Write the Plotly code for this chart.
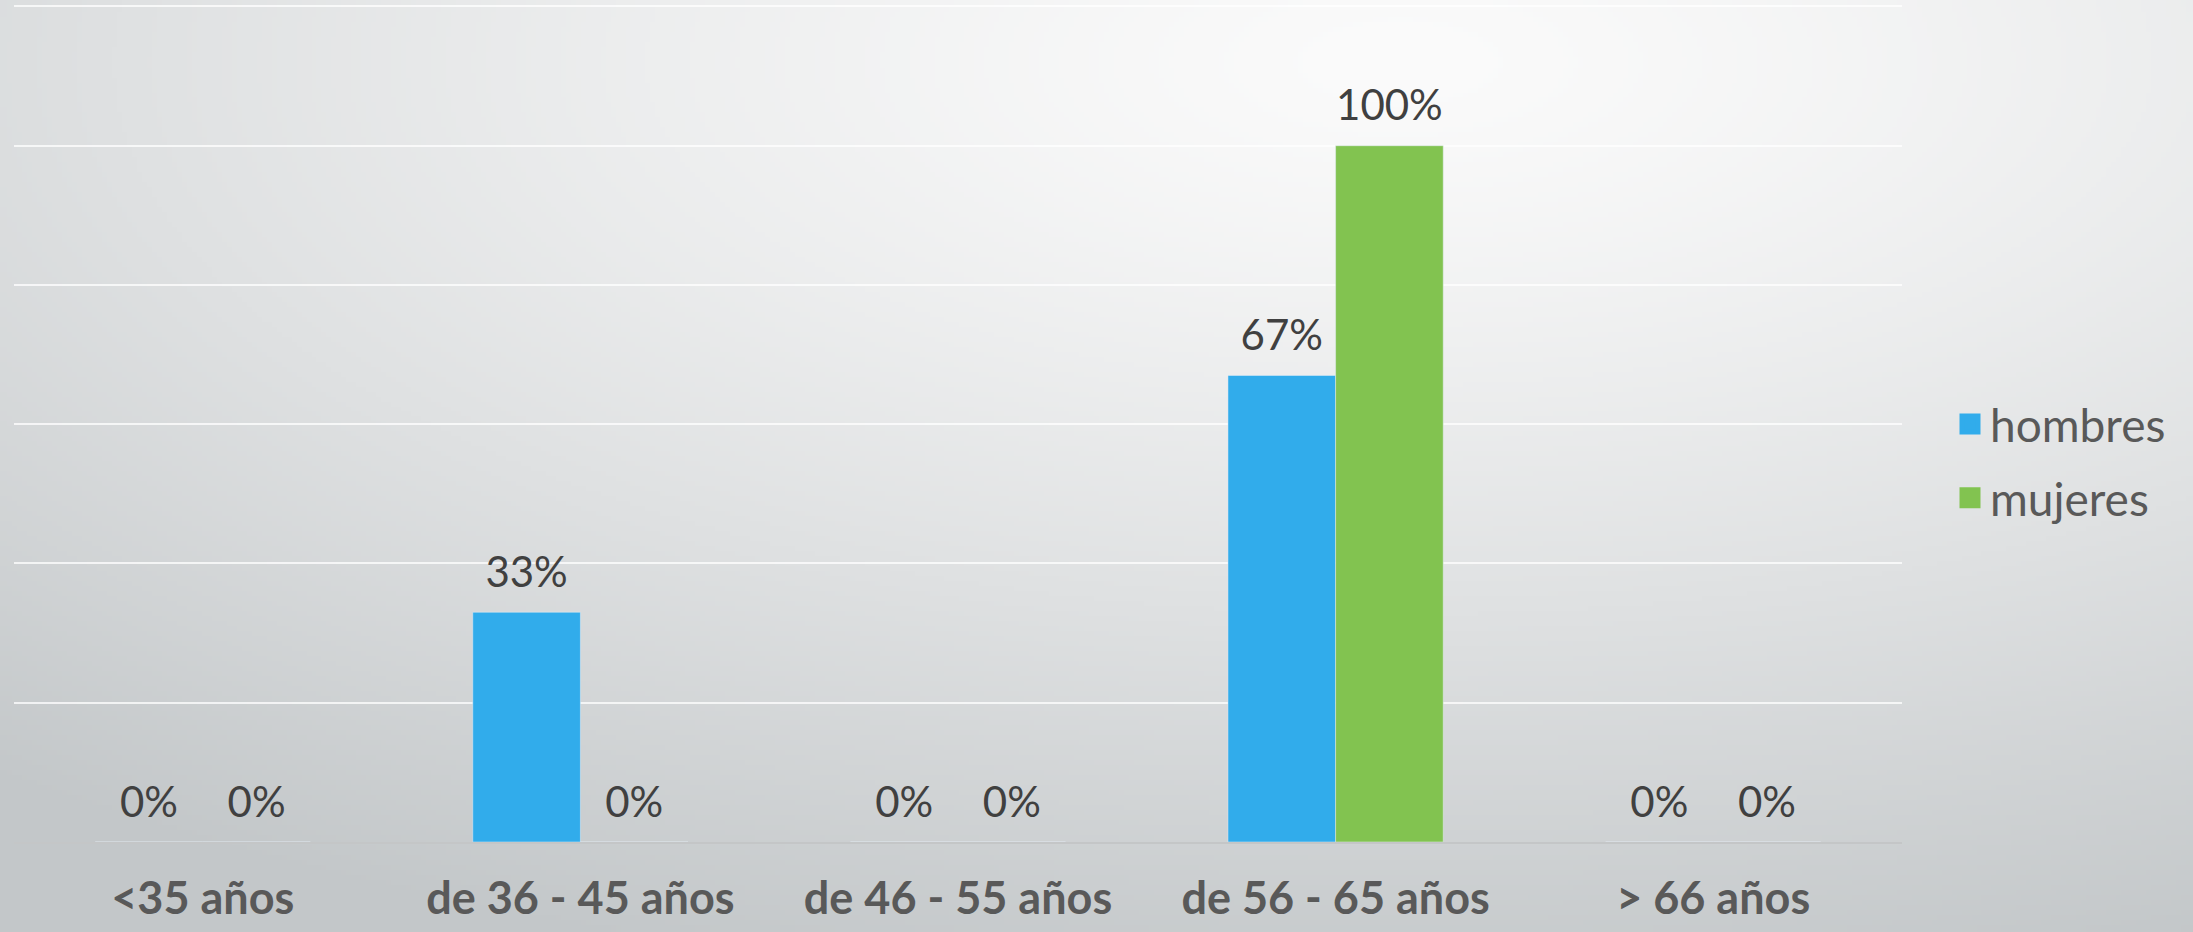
import base64, struct, zlib
import numpy as np
import plotly.graph_objects as go

categories = ["<35 años", "de 36 - 45 años", "de 46 - 55 años", "de 56 - 65 años", "> 66 años"]
series_names = ["hombres", "mujeres"]
hombres = [0.0, 0.33, 0.0, 0.67, 0.0]
mujeres = [0.0, 0.0, 0.0, 1.0, 0.0]
hombres_labels = ["0%", "33%", "0%", "67%", "0%"]
mujeres_labels = ["0%", "0%", "0%", "100%", "0%"]
colors = ["#31ACEB", "#82C350"]

W, H = 2193, 932
ML, MR, MT, MB = 14, 291, 3, 90


def gradient_png(w, h):
    ys, xs = np.mgrid[0:h, 0:w]
    fx = xs / (w - 1) * W
    fy = ys / (h - 1) * H
    d = np.sqrt(((fx - 1400) / 2200) ** 2 + ((fy - 60) / 950) ** 2)
    t = np.clip(d, 0, 1) ** 1.3
    light = np.array([251, 251, 251])
    dark = np.array([195, 199, 201])
    img = light[None, None, :] + (dark - light)[None, None, :] * t[:, :, None]
    img = img.astype(np.uint8)
    raw = b"".join(b"\x00" + img[r].tobytes() for r in range(h))

    def chunk(tag, data):
        c = struct.pack(">I", len(data)) + tag + data
        return c + struct.pack(">I", zlib.crc32(tag + data) & 0xFFFFFFFF)

    png = b"\x89PNG\r\n\x1a\n"
    png += chunk(b"IHDR", struct.pack(">IIBBBBB", w, h, 8, 2, 0, 0, 0))
    png += chunk(b"IDAT", zlib.compress(raw, 9))
    png += chunk(b"IEND", b"")
    return "data:image/png;base64," + base64.b64encode(png).decode()


pw = W - ML - MR
ph = H - MT - MB

fig = go.Figure()
for name, vals, col in zip(series_names, [hombres, mujeres], colors):
    fig.add_trace(go.Bar(
        name=name, x=categories, y=vals, marker_color=col,
        offsetgroup=name, showlegend=False, hoverinfo="skip",
    ))
# value labels, grouped like the bars
for name, vals, labels in zip(series_names, [hombres, mujeres], [hombres_labels, mujeres_labels]):
    fig.add_trace(go.Scatter(
        name=name, x=categories, y=vals, text=labels, mode="markers+text",
        offsetgroup=name, textposition="top center", cliponaxis=False,
        marker=dict(size=22, color="rgba(0,0,0,0)"), showlegend=False,
        textfont=dict(family="Lato", size=42, color="#404040"),
    ))
# legend entries with square swatches
for name, col in zip(series_names, colors):
    fig.add_trace(go.Scatter(
        name=name, x=[None], y=[None], mode="markers", legendgroup=name,
        marker=dict(symbol="square", size=16, color=col, line=dict(width=5, color=col)),
    ))

fig.update_layout(
    width=W, height=H,
    margin=dict(l=ML, r=MR, t=MT, b=MB, pad=0),
    barmode="group", bargap=0.43, bargroupgap=0,
    scattermode="group", scattergap=0.43,
    paper_bgcolor="rgba(0,0,0,0)", plot_bgcolor="rgba(0,0,0,0)",
    font=dict(family="Lato", color="#595959"),
    showlegend=True,
    legend=dict(x=(1950 - ML) / pw, y=(H - MB - 461) / ph, xanchor="left", yanchor="middle",
                font=dict(family="Lato", size=46, color="#595959"),
                bgcolor="rgba(0,0,0,0)", tracegroupgap=11, itemwidth=30,
                itemsizing="trace"),
    images=[dict(source=gradient_png(440, 187), xref="paper", yref="paper",
                 x=-ML / pw, y=1 + MT / ph, sizex=W / pw, sizey=H / ph,
                 xanchor="left", yanchor="top", sizing="stretch", layer="below")],
)
fig.update_xaxes(
    showgrid=False, showline=True, linecolor="#c4c6c7", linewidth=2,
    ticks="", tickfont=dict(family="Lato", size=45, color="#595959", weight="bold"),
    ticklabelstandoff=16,
)
fig.update_yaxes(
    range=[0, 1.205], tickvals=[0.2, 0.4, 0.6, 0.8, 1.0, 1.2], showgrid=True,
    gridcolor="rgba(255,255,255,0.75)", gridwidth=2,
    showticklabels=False, zeroline=False, showline=False,
)

fig.write_html("out.html", config={"displayModeBar": False},
               post_script="document.body.style.margin='0';document.body.style.overflow='hidden';")
